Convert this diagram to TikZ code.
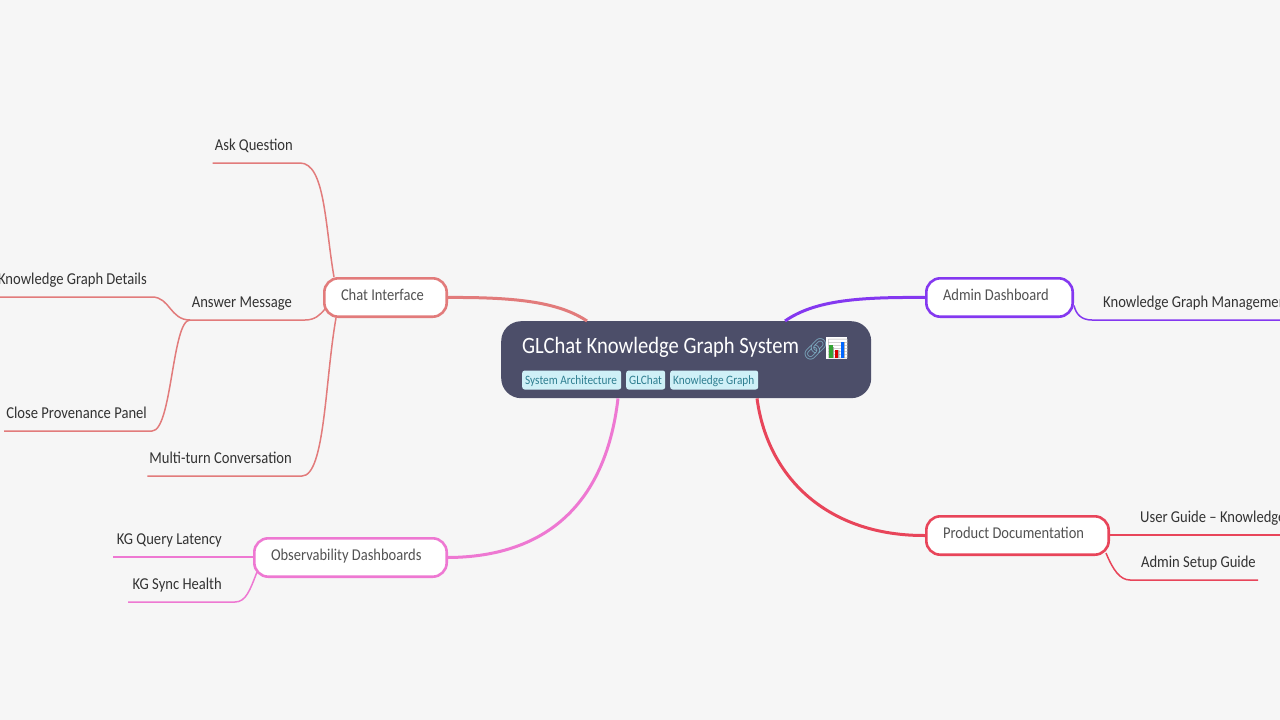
\documentclass[tikz,border=0pt]{standalone}
\usepackage{fontspec}
\setmainfont[FakeStretch=0.88]{Carlito}
\newfontfamily\emojifont{Noto Emoji}
\definecolor{pagebg}{HTML}{F6F6F6}
\definecolor{rootfill}{HTML}{4C4E69}
\definecolor{tagfill}{HTML}{CFF0F7}
\definecolor{tagtext}{HTML}{2F7F91}
\definecolor{chatline}{HTML}{E27B7B}
\definecolor{adminline}{HTML}{8438F0}
\definecolor{docline}{HTML}{E8455A}
\definecolor{obsline}{HTML}{EE78D2}
\definecolor{linkblue}{HTML}{7BA9BF}
\tikzset{
  rootbox/.style={fill=rootfill, rounded corners=20pt, minimum width=370pt, minimum height=77pt, inner sep=0pt, anchor=north west},
  roottext/.style={text=white, font=\fontsize{23.4}{26}\selectfont, anchor=base west, inner sep=0pt},
  tagbox/.style={fill=tagfill, text=tagtext, rounded corners=2.5pt, font=\fontsize{12.8}{14}\selectfont, anchor=west, align=flush left, inner xsep=3pt, inner ysep=0pt, text height=14pt, text depth=5pt},
  branch/.style={draw=#1, fill=white, line width=2.6pt, rounded corners=14pt, text=black!68, font=\fontsize{16.5}{18}\selectfont, align=flush left, inner xsep=16.7pt, inner ysep=0pt, minimum height=38.4pt, text height=13pt, text depth=7pt, anchor=north west},
  leaf/.style={text=black!80, font=\fontsize{16.6}{18}\selectfont, inner xsep=2pt, inner ysep=0pt, text height=12pt, text depth=12pt},
  trunk/.style={draw=#1, line width=3pt},
  twig/.style={draw=#1, line width=1.5pt}
}
\begin{document}
\begin{tikzpicture}[x=1pt, y=-1pt]
  \fill[pagebg] (0,0) rectangle (1280,720);
  \useasboundingbox (0,0) rectangle (1280,720);

  \node[rootbox] (root) at (501,321) {};
  \node[roottext] (title) at (522,353) {GLChat Knowledge Graph System};
  \node[roottext, text=linkblue, font=\emojifont\fontsize{21}{22}\selectfont] (linkicon) at (802,356) {🔗};
  \fill[white] (826,337) rectangle (847,359);
  \node[roottext, text=black!35, font=\emojifont\fontsize{19}{22}\selectfont] (charticon) at (826,355) {📊};
  \fill[green!55!black!80] (829,345) rectangle (833,358);
  \fill[red!85!black] (835,350) rectangle (838,358);
  \fill[blue!60!cyan] (841,342) rectangle (844,358);
  \node[tagbox, text width=93pt] (tagsys) at (522,380) {System Architecture};
  \node[tagbox, text width=33pt] (tagglc) at (626,380) {GLChat};
  \node[tagbox, text width=82pt] (tagkg) at (670,380) {Knowledge Graph};

  \node[branch=chatline, text width=89pt] (chat) at (323,277) {Chat Interface};
  \node[branch=adminline, text width=113pt] (admin) at (925,277) {Admin Dashboard};
  \node[branch=docline, text width=149pt] (docs) at (925,515) {Product Documentation};
  \node[branch=obsline, text width=159pt] (obs) at (253,537) {Observability Dashboards};

  \draw[trunk=chatline] (chat.east) .. controls (520,297) and (560,303) .. ([xshift=86pt]root.north west);
  \draw[trunk=adminline] (admin.west) .. controls (860,297) and (815,300) .. ([xshift=284pt]root.north west);
  \draw[trunk=docline] ([xshift=256pt]root.south west) .. controls (768,480) and (830,536) .. (docs.west);
  \draw[trunk=obsline] (obs.east) .. controls (540,557) and (605,510) .. ([xshift=117pt]root.south west);

  \node[leaf, anchor=south east] (askq) at (295,163) {Ask Question};
  \node[leaf, anchor=south east] (answer) at (294,320) {Answer Message};
  \node[leaf, anchor=south east] (kgdetails) at (149,297) {Knowledge Graph Details};
  \node[leaf, anchor=south east] (closepanel) at (149,431) {Close Provenance Panel};
  \node[leaf, anchor=south east] (multiturn) at (294,476) {Multi-turn Conversation};

  \draw[twig=chatline] (askq.south west) -- (askq.south east) -- (300,163) .. controls (325,163) and (325,225) .. ([xshift=11pt]chat.north west);
  \draw[twig=chatline] (190,320) -- (answer.south east) -- (305,320) .. controls (315,320) and (320,315) .. ([xshift=2pt,yshift=9pt]chat.south west);
  \draw[twig=chatline] (kgdetails.south west) -- (kgdetails.south east) -- (152,297) .. controls (170,297) and (170,320) .. (190,320);
  \draw[twig=chatline] (closepanel.south west) -- (closepanel.south east) -- (152,431) .. controls (172,431) and (172,320) .. (190,320);
  \draw[twig=chatline] (multiturn.south west) -- (multiturn.south east) -- (302,476) .. controls (325,476) and (325,380) .. ([xshift=13pt]chat.south west);

  \node[leaf, anchor=south west] (kgmanage) at (1101,320) {Knowledge Graph Management};
  \draw[twig=adminline] ([yshift=-8pt]admin.east) .. controls (1076,314) and (1081,320) .. (1092,320) -- (kgmanage.south west) -- (1280,320);

  \node[leaf, anchor=south west] (userguide) at (1138,535) {User Guide – Knowledge};
  \node[leaf, anchor=south east] (setup) at (1258,580) {Admin Setup Guide};
  \draw[twig=docline] (docs.east |- userguide.south) -- (userguide.south west) -- (1280,535);
  \draw[twig=docline] ([xshift=-4pt,yshift=3pt]docs.south east) .. controls (1113,570) and (1120,580) .. (1130,580) -- (setup.south west) -- (setup.south east);

  \node[leaf, anchor=south east] (latency) at (224,557) {KG Query Latency};
  \node[leaf, anchor=south east] (synchealth) at (224,602) {KG Sync Health};
  \draw[twig=obsline] (113,557) -- (obs.west |- latency.south);
  \draw[twig=obsline] (128,602) -- (synchealth.south east) -- (235,602) .. controls (246,602) and (250,590) .. ([xshift=4pt,yshift=6pt]obs.south west);
\end{tikzpicture}
\end{document}
